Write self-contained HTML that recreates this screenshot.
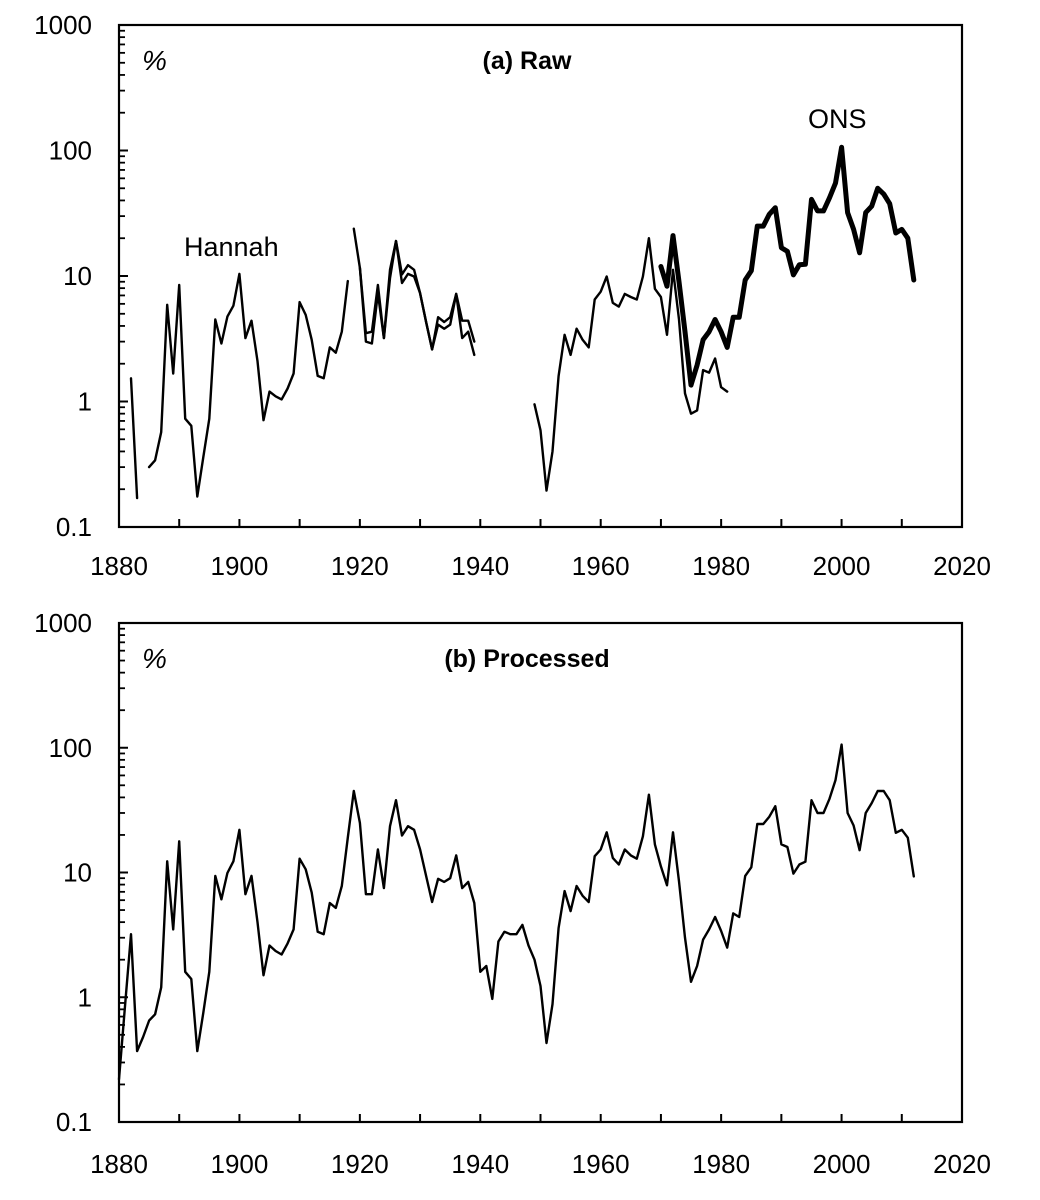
<!DOCTYPE html>
<html><head><meta charset="utf-8"><style>
html,body{margin:0;padding:0;background:#fff;}
svg{display:block;font-family:"Liberation Sans",Arial,sans-serif;}
</style></head><body>
<svg id="chart" width="1040" height="1200" viewBox="0 0 1040 1200" xmlns="http://www.w3.org/2000/svg"></svg>
<script>
// ---- data ----
const rawHannahYears = [];
for (let y = 1882; y <= 1939; y++) rawHannahYears.push(y);
const rawHannahA = [1.53,0.17,null,0.3,0.34,0.57,5.9,1.67,8.5,0.73,0.64,0.175,0.36,0.73,4.5,2.9,4.75,5.8,10.4,3.2,4.4,2.1,0.71,1.2,1.1,1.04,1.27,1.67,6.2,4.9,3.1,1.6,1.53,2.7,2.45,3.6,9.1,null,
  11.6,3.5,3.6,8.5,3.2,11.2,19,10.3,12.2,11.2,7.3,4.3,2.6,4.7,4.3,4.7,7.2,4.4,4.4,3.0];
const rawHannahBYears = [1919,1920,1921,1922,1923,1924,1925,1926,1927,1928,1929,1930,1931,1932,1933,1934,1935,1936,1937,1938,1939];
const rawHannahB = [23.8,11.6,3.0,2.9,7.3,3.2,9.6,19,8.8,10.4,9.9,7.3,4.3,2.6,4.1,3.8,4.1,7.2,3.2,3.6,2.35];
const rawPostwarYears = [1949,1950,1951,1952,1953,1954,1955,1956,1957,1958,1959,1960,1961,1962,1963,1964,1965,1966,1967,1968,1969,1970,1971,1972,1973,1974,1975,1976,1977,1978,1979,1980,1981];
const rawPostwar = [0.95,0.59,0.195,0.40,1.6,3.4,2.35,3.8,3.1,2.7,6.5,7.5,9.9,6.1,5.7,7.2,6.8,6.5,9.9,20,7.9,6.8,3.4,11.2,4.5,1.16,0.80,0.85,1.78,1.7,2.2,1.3,1.2];
const onsYears = [];
for (let y = 1970; y <= 2012; y++) onsYears.push(y);
const onsValues = [11.9,8.3,21,9,3.6,1.35,1.95,3.1,3.6,4.5,3.6,2.7,4.7,4.7,9.3,11,25,25,31,35,16.8,15.7,10.2,12.3,12.4,40.8,33,33,42,55,106,32,23.5,15.3,32,36,50,45,37.7,22,23.5,20,9.3];
const procYears = [];
for (let y = 1880; y <= 2012; y++) procYears.push(y);
const procValues = [0.22,0.85,3.2,0.37,0.48,0.65,0.73,1.2,12.3,3.5,17.8,1.6,1.4,0.37,0.75,1.6,9.4,6.1,9.9,12.3,
  22,6.7,9.4,4.0,1.5,2.6,2.35,2.2,2.7,3.5,12.9,10.6,6.9,3.35,3.2,5.7,5.2,7.8,19,45,
  25,6.7,6.7,15.3,7.5,23.5,38,19.8,23.5,22,15.3,9.4,5.8,8.9,8.4,9.0,13.7,7.5,8.4,5.7,
  1.6,1.78,0.97,2.8,3.35,3.2,3.2,3.8,2.6,2.0,1.23,0.43,0.88,3.6,7.1,4.9,7.8,6.5,5.8,13.5,
  15.3,21,13.1,11.6,15.3,13.7,12.9,19.5,42,16.8,11.2,7.9,21,8.5,3.0,1.33,1.78,2.9,3.5,4.4,
  3.4,2.5,4.7,4.4,9.4,11,24.5,24.5,28,34,16.8,16,9.8,11.6,12.2,38,30,30,39,55,
  106,30,23.8,15.1,30,36,45,45,38,20.8,22,19,9.3];
const yTickLabels = ["1000","100","10","1","0.1"];
const xTickLabels = ["1880","1900","1920","1940","1960","1980","2000","2020"];

// ---- layout ----
const NS = "http://www.w3.org/2000/svg";
const svg = document.getElementById('chart');
const X0 = 119, X1 = 962, YR0 = 1880, YR1 = 2020;
function xs(yr){ return X0 + (yr - YR0) * (X1 - X0) / (YR1 - YR0); }
function makeY(top, bottom){ return v => bottom - (Math.log10(v) + 1) * (bottom - top) / 4; }
function el(tag, attrs, parent){ const e = document.createElementNS(NS, tag); for (const k in attrs) e.setAttribute(k, attrs[k]); (parent||svg).appendChild(e); return e; }

function linePath(years, vals, ys){
  let d = "", pen = false;
  for (let i = 0; i < years.length; i++){
    const v = vals[i];
    if (v == null){ pen = false; continue; }
    d += (pen ? "L" : "M") + xs(years[i]).toFixed(1) + "," + ys(v).toFixed(1);
    pen = true;
  }
  return d;
}

function panel(name, top, bottom, title, labelY){
  const g = el('g', {});
  
  
  const ys = makeY(top, bottom);
  const frame = el('rect', {x:X0, y:top, width:X1-X0, height:bottom-top, fill:'none', stroke:'#000', 'stroke-width':2.2}, g);
  
  
  for (let d = -1; d <= 3; d++){
    const yv = ys(Math.pow(10, d));
    el('line', {x1:X0, x2:X0+9, y1:yv, y2:yv, stroke:'#000', 'stroke-width':2}, g);
    if (d < 3) for (let m = 2; m <= 9; m++){
      const ym = ys(m * Math.pow(10, d));
      el('line', {x1:X0, x2:X0+6, y1:ym, y2:ym, stroke:'#000', 'stroke-width':1.8}, g);
    }
  }
  yTickLabels.forEach((t, i) => {
    const tx = el('text', {x:92, y:ys(Math.pow(10, 3-i))+9, 'text-anchor':'end', 'font-size':26}, g);
    tx.textContent = t;
    
    
  });
  for (let yr = 1880; yr <= 2020; yr += 10){
    el('line', {x1:xs(yr), x2:xs(yr), y1:bottom, y2:bottom-8, stroke:'#000', 'stroke-width':2}, g);
  }
  xTickLabels.forEach(t => {
    const tx = el('text', {x:xs(+t), y:labelY, 'text-anchor':'middle', 'font-size':26}, g);
    tx.textContent = t;
    
    
  });
  const pct = el('text', {x:142, y:top+45, 'font-size':28, 'font-style':'italic'}, g);
  pct.textContent = '%';
  
  
  const tt = el('text', {x:527, y:top+44, 'text-anchor':'middle', 'font-size':25, 'font-weight':'bold'}, g);
  tt.textContent = title;
  
  
  return {g, ys};
}

const pa = panel('panel-raw', 25, 527, '(a) Raw', 575);
function series(g, name, years, vals, ys, w){
  const p = el('path', {d:linePath(years, vals, ys), fill:'none', stroke:'#000', 'stroke-width':w, 'stroke-linejoin':'round', 'stroke-linecap':'round'}, g);
  
  
}
series(pa.g, 'hannah-raw-line', rawHannahYears, rawHannahA, pa.ys, 2.4);
series(pa.g, 'hannah-raw-line-alt', rawHannahBYears, rawHannahB, pa.ys, 2.4);
series(pa.g, 'postwar-raw-line', rawPostwarYears, rawPostwar, pa.ys, 2.4);
series(pa.g, 'ons-line', onsYears, onsValues, pa.ys, 5);
const hl = el('text', {x:184, y:256, 'font-size':27}, pa.g);
hl.textContent = 'Hannah';


const ol = el('text', {x:808, y:128, 'font-size':27}, pa.g);
ol.textContent = 'ONS';



const pb = panel('panel-processed', 623, 1122, '(b) Processed', 1173);
series(pb.g, 'processed-line', procYears, procValues, pb.ys, 2.4);
</script>
</body></html>
